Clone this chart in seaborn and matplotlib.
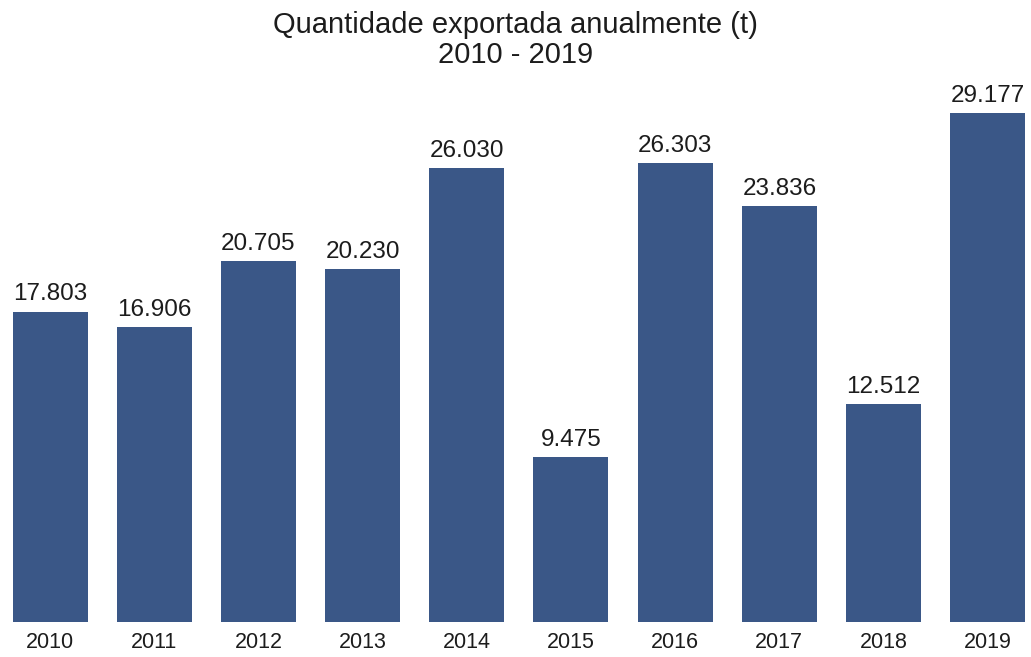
import matplotlib
matplotlib.use("Agg")
import matplotlib.pyplot as plt
import seaborn as sns
import pandas as pd

# Annual exported quantity, in tonnes
years = ["2010", "2011", "2012", "2013", "2014", "2015", "2016", "2017", "2018", "2019"]
quantities = [17803, 16906, 20705, 20230, 26030, 9475, 26303, 23836, 12512, 29177]

title_line1 = "Quantidade exportada anualmente (t)"
title_line2 = "2010 - 2019"

bar_color = "#3a5787"
text_color = "#1c1c1c"

sns.set_theme(style="white")
plt.rcParams["font.family"] = ["Liberation Sans", "DejaVu Sans"]

df = pd.DataFrame({"ano": years, "quantidade": quantities})

fig = plt.figure(figsize=(10.31, 6.57), dpi=100)
ax = fig.add_axes([0.0, 35 / 657, 1.0, 522 / 657])

sns.barplot(data=df, x="ano", y="quantidade", color=bar_color,
            saturation=1, width=0.72, linewidth=0, ax=ax)

ax.set_xlim(-0.48, 9.415)
ax.set_ylim(0, 522 / 0.01744)

labels = [f"{v:,.0f}".replace(",", ".") for v in quantities]
ax.bar_label(ax.containers[0], labels=labels, padding=4.5,
             fontsize=17.5, color=text_color)

ax.set_xlabel("")
ax.set_ylabel("")
ax.set_yticks([])
ax.tick_params(axis="x", length=0, pad=7, labelsize=15.5, labelcolor=text_color)
sns.despine(ax=ax, left=True, bottom=True)

fig.text(0.5, 1 - 33 / 657, title_line1, ha="center", va="baseline",
         fontsize=21, color=text_color)
fig.text(0.5, 1 - 63 / 657, title_line2, ha="center", va="baseline",
         fontsize=21, color=text_color)

fig.savefig("out.png", dpi=100, facecolor="white")
